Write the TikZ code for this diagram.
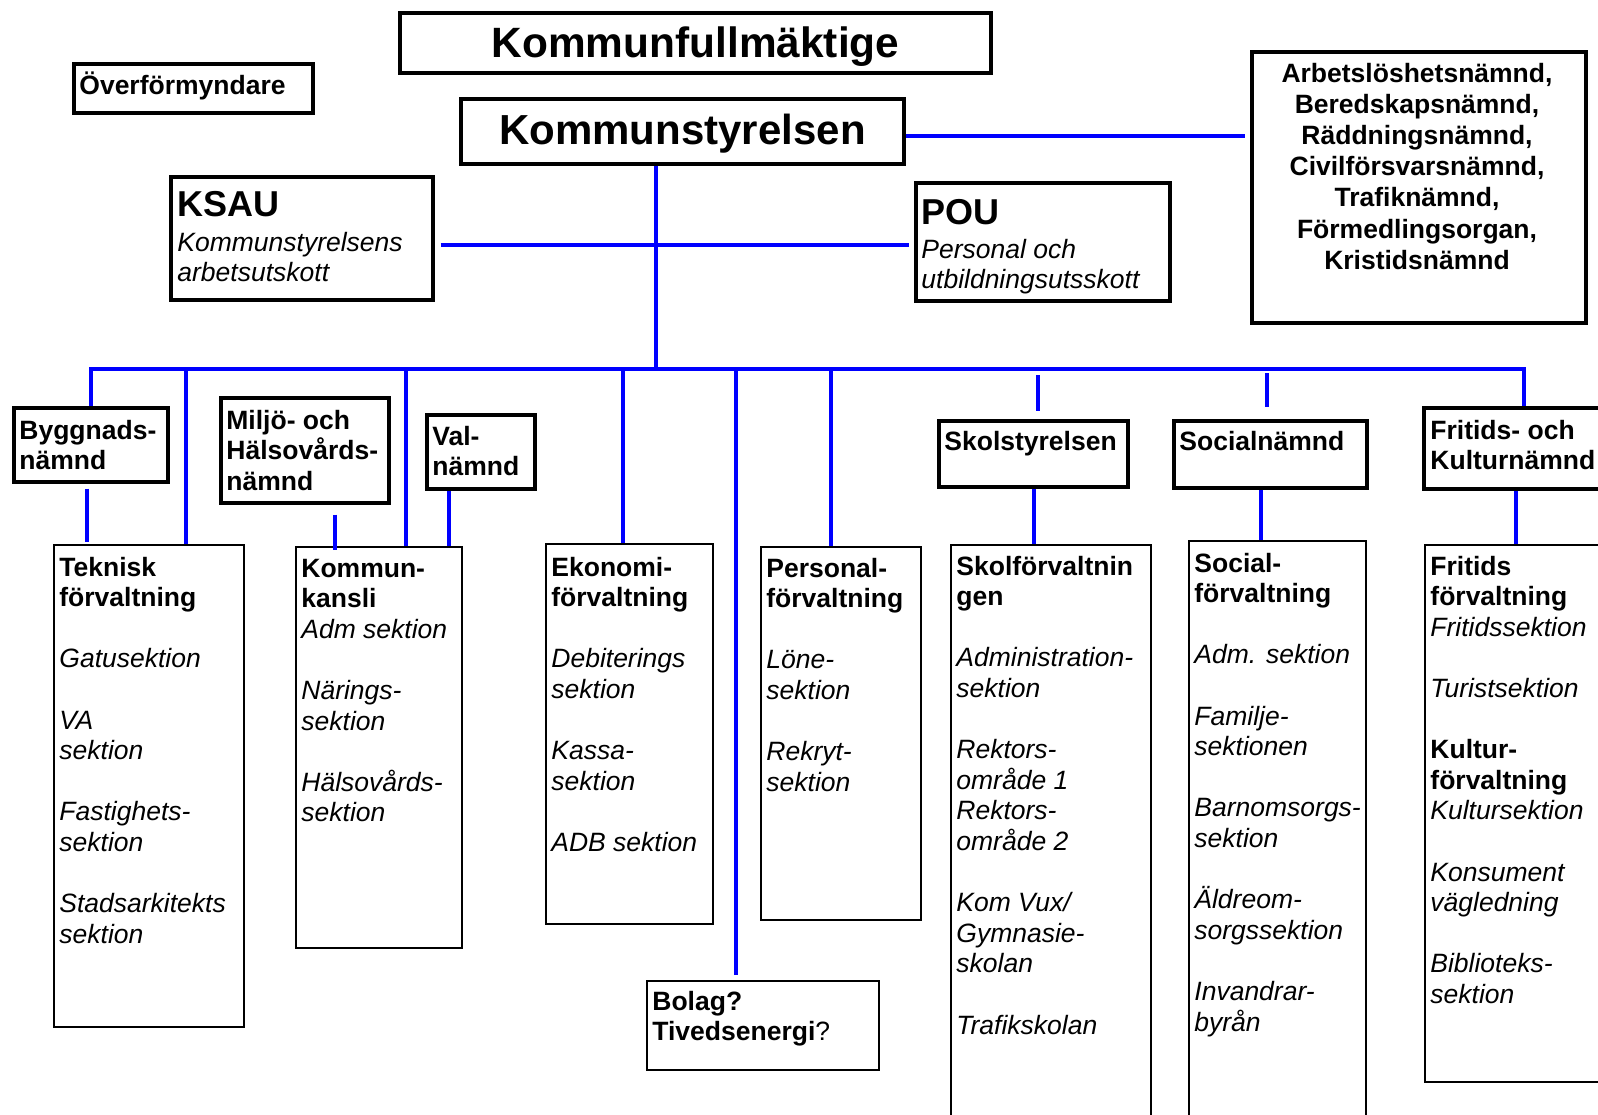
\documentclass[tikz,border=0pt]{standalone}
\usepackage{fontspec}
\setmainfont{Liberation Sans}
\usetikzlibrary{fit}
\newcommand\tx{\fontsize{13.25pt}{15.3pt}\selectfont}
\newcommand\btxt[1]{\parbox[t]{160pt}{\raggedright\tx #1}}
\newcommand\skipln{\\[15.3pt]}
\tikzset{
  hbox/.style={draw=black, line width=1.7pt, inner sep=0pt},
  lbox/.style={draw=black, line width=1.1pt, inner sep=0pt},
  txt/.style={inner sep=0pt, anchor=base west},
  conn/.style={draw=blue, line width=1.9pt},
}
\begin{document}
\begin{tikzpicture}[x=0.5pt,y=-0.5pt]
\useasboundingbox (0,0) rectangle (1598,1114);
\fill[white] (0,0) rectangle (1598,1114);
\clip (0,0) rectangle (1598,1114);

% --- top level ---
\node[hbox, fit={(400,13) (991,73)}] (kf) {};
\node[anchor=base, inner sep=0pt, font=\fontsize{21.2pt}{25pt}\selectfont\bfseries] (kft) at (695.5,57) {Kommunfullmäktige};

\node[hbox, fit={(74,64) (313,113)}] (over) {};
\node[txt, font=\tx\bfseries] (overt) at (79,94) {Överförmyndare};

\node[hbox, fit={(461,99) (904,164)}] (ks) {};
\node[anchor=base, inner sep=0pt, font=\fontsize{21pt}{25pt}\selectfont\bfseries] (kst) at (682.5,144) {Kommunstyrelsen};

\node[hbox, fit={(171,177) (433,300)}] (ksau) {};
\node[txt] (ksaut) at (177,216) {\btxt{{\fontsize{18pt}{18pt}\selectfont\bfseries KSAU}\\[2.2pt]\textit{Kommunstyrelsens}\\\textit{arbetsutskott}}};

\node[hbox, fit={(916,183) (1170,301)}] (pou) {};
\node[txt] (pout) at (921,224) {\btxt{{\fontsize{18pt}{18pt}\selectfont\bfseries POU}\\[1.7pt]\textit{Personal och}\\\textit{utbildningsutsskott}}};

\node[hbox, fit={(1252,52) (1586,323)}] (nmd) {};
\node[inner sep=0pt, anchor=base] (nmdt) at (1417,82.5) {\parbox[t]{200pt}{\centering\fontsize{13.25pt}{15.55pt}\selectfont\bfseries Arbetslöshetsnämnd,\\Beredskapsnämnd,\\Räddningsnämnd,\\Civilförsvarsnämnd,\\Trafiknämnd,\\Förmedlingsorgan,\\Kristidsnämnd\par}};

% --- nämnder ---
\node[hbox, fit={(14,408) (168,482)}] (bygg) {};
\node[txt] (byggt) at (19,439) {\btxt{\textbf{Byggnads-}\\\textbf{nämnd}}};

\node[hbox, fit={(221,398) (389,503)}] (miljo) {};
\node[txt] (miljot) at (226,429) {\btxt{\textbf{Miljö- och}\\\textbf{Hälsovårds-}\\\textbf{nämnd}}};

\node[hbox, fit={(427,415) (535,489)}] (val) {};
\node[txt] (valt) at (432,445) {\btxt{\textbf{Val-}\\\textbf{nämnd}}};

\node[hbox, fit={(939,421) (1128,487)}] (skolst) {};
\node[txt] (skolstt) at (944,450) {\btxt{\textbf{Skolstyrelsen}}};

\node[hbox, fit={(1174,421) (1367,488)}] (socn) {};
\node[txt] (socnt) at (1179,450) {\btxt{\textbf{Socialnämnd}}};

\node[hbox, fit={(1424,408) (1620,489)}] (frit) {};
\node[txt] (fritt) at (1430,439) {\btxt{\textbf{Fritids- och}\\\textbf{Kulturnämnd}}};

% --- förvaltningar ---
\node[lbox, fit={(54,545) (244,1027)}] (tek) {};
\node[txt] (tekt) at (59,576) {\btxt{\textbf{Teknisk}\\\textbf{förvaltning}\skipln\textit{Gatusektion}\skipln\textit{VA}\\\textit{sektion}\skipln\textit{Fastighets-}\\\textit{sektion}\skipln\textit{Stadsarkitekts}\\\textit{sektion}}};

\node[lbox, fit={(296,547) (462,948)}] (kk) {};
\node[txt] (kkt) at (301,577) {\btxt{\textbf{Kommun-}\\\textbf{kansli}\\\textit{Adm sektion}\skipln\textit{Närings-}\\\textit{sektion}\skipln\textit{Hälsovårds-}\\\textit{sektion}}};

\node[lbox, fit={(546,544) (713,924)}] (eko) {};
\node[txt] (ekot) at (551,576) {\btxt{\textbf{Ekonomi-}\\\textbf{förvaltning}\skipln\textit{Debiterings}\\\textit{sektion}\skipln\textit{Kassa-}\\\textit{sektion}\skipln\textit{ADB sektion}}};

\node[lbox, fit={(761,547) (921,920)}] (pers) {};
\node[txt] (perst) at (766,577) {\btxt{\textbf{Personal-}\\\textbf{förvaltning}\skipln\textit{Löne-}\\\textit{sektion}\skipln\textit{Rekryt-}\\\textit{sektion}}};

\node[lbox, fit={(647,981) (879,1070)}] (bolag) {};
\node[txt] (bolagt) at (652,1010) {\btxt{\textbf{Bolag?}\\\textbf{Tivedsenergi}?}};

\node[lbox, fit={(951,545) (1151,1140)}] (skolf) {};
\node[txt] (skolft) at (956,575) {\btxt{\textbf{Skolförvaltnin}\\\textbf{gen}\skipln\textit{Administration-}\\\textit{sektion}\skipln\textit{Rektors-}\\\textit{område 1}\\\textit{Rektors-}\\\textit{område 2}\skipln\textit{Kom Vux/}\\\textit{Gymnasie-}\\\textit{skolan}\skipln\textit{Trafikskolan}}};

\node[lbox, fit={(1189,541) (1366,1140)}] (socf) {};
\node[txt] (socft) at (1194,572) {\btxt{\textbf{Social-}\\\textbf{förvaltning}\skipln\textit{Adm. sektion}\skipln\textit{Familje-}\\\textit{sektionen}\skipln\textit{Barnomsorgs-}\\\textit{sektion}\skipln\textit{Äldreom-}\\\textit{sorgssektion}\skipln\textit{Invandrar-}\\\textit{byrån}}};

\node[lbox, fit={(1425,545) (1620,1082)}] (fritf) {};
\node[txt] (fritft) at (1430,575) {\btxt{\textbf{Fritids}\\\textbf{förvaltning}\\\textit{Fritidssektion}\skipln\textit{Turistsektion}\skipln\textbf{Kultur-}\\\textbf{förvaltning}\\\textit{Kultursektion}\skipln\textit{Konsument}\\\textit{vägledning}\skipln\textit{Biblioteks-}\\\textit{sektion}}};

% --- connectors ---
\coordinate (trunk) at (656,369);
\coordinate (kp) at (656,245);
\coordinate (kr) at (1000,136);
\coordinate (busL) at (91,369);
\coordinate (busR) at (1524,369);
\coordinate (dTek) at (186,369);
\coordinate (dKk) at (406,369);
\coordinate (dEko) at (623,369);
\coordinate (dBol) at (736,369);
\coordinate (dPers) at (831,369);
\coordinate (dSkol) at (1038,369);
\coordinate (dSoc) at (1267,369);

\draw[conn] (ks.south -| trunk) -- (trunk);
\draw[conn, shorten <=3pt, shorten >=2.5pt] (ksau.east |- kp) -- (pou.west |- kp);
\draw[conn, shorten >=2.5pt] (ks.east |- kr) -- (nmd.west |- kr);
\draw[conn, line join=miter] (bygg.north -| busL) -- (busL) -- (busR) -- (frit.north -| busR);

\draw[conn] (dTek) -- (dTek |- tek.north);
\draw[conn] (dKk) -- (dKk |- kk.north);
\draw[conn] (dEko) -- (dEko |- eko.north);
\draw[conn, shorten >=2.5pt] (dBol) -- (dBol |- bolag.north);
\draw[conn] (dPers) -- (dPers |- pers.north);
\draw[conn, shorten <=3pt, shorten >=4pt] (dSkol) -- (dSkol |- skolst.north);
\draw[conn, shorten <=2pt, shorten >=6pt] (dSoc) -- (dSoc |- socn.north);

\draw[conn, shorten <=2.5pt, shorten >=1pt] (bygg.south -| 87,0) -- (tek.north -| 87,0);
\draw[conn, shorten <=5pt, shorten >=-2pt] (miljo.south -| 335,0) -- (kk.north -| 335,0);
\draw[conn] (val.south -| 449,0) -- (kk.north -| 449,0);
\draw[conn] (skolst.south -| 1034,0) -- (skolf.north -| 1034,0);
\draw[conn] (socn.south -| 1261,0) -- (socf.north -| 1261,0);
\draw[conn] (frit.south -| 1516,0) -- (fritf.north -| 1516,0);
\end{tikzpicture}
\end{document}
